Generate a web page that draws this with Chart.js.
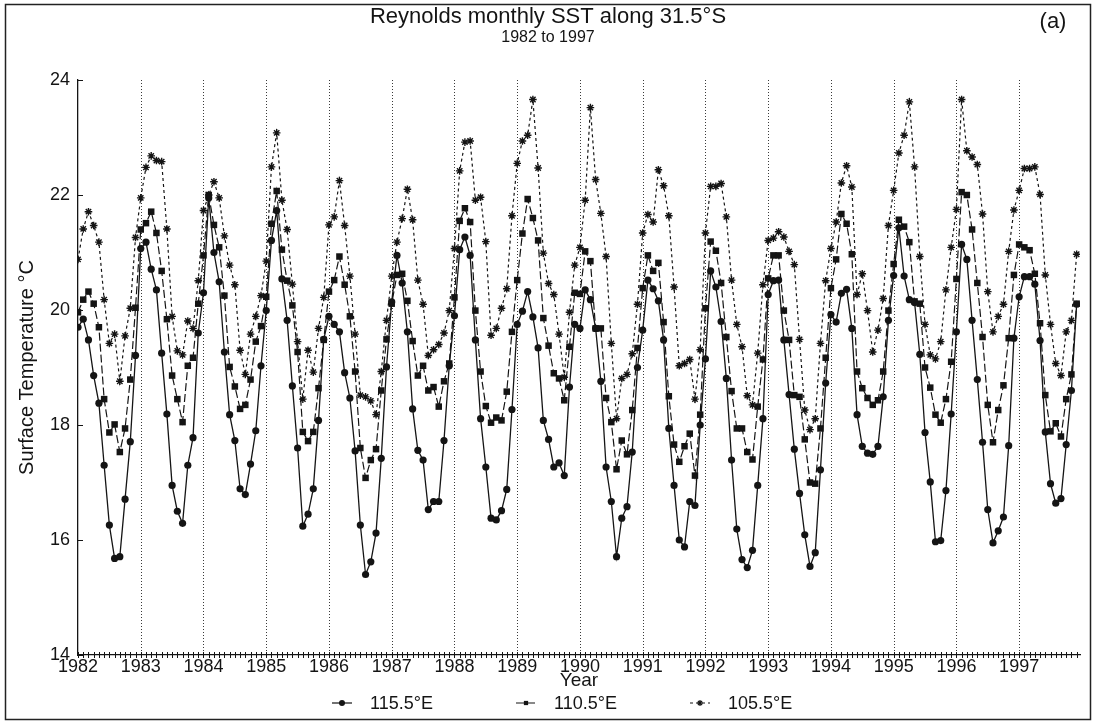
<!DOCTYPE html>
<html>
<head>
<meta charset="utf-8">
<script src="https://cdn.jsdelivr.net/npm/chart.js@4.4.1/dist/chart.umd.min.js"></script>
<style>
html, body { margin: 0; padding: 0; background: #fff; }
#wrap { width: 1095px; height: 724px; }
</style>
</head>
<body>
<div id="wrap"><canvas id="myChart" width="1095" height="724"></canvas></div>
<script>
// monthly values, Jan..Dec for each year 1982-1997
const years = [1982, 1983, 1984, 1985, 1986, 1987, 1988, 1989, 1990, 1991, 1992, 1993, 1994, 1995, 1996, 1997];
const yTicks = [14, 16, 18, 20, 22, 24];
const seriesNames = ['115.5°E', '110.5°E', '105.5°E'];

const sst115 = [
  19.70, 19.84, 19.48, 18.86, 18.38, 17.30, 16.26, 15.68, 15.71, 16.71, 17.71, 19.21,
  21.07, 21.18, 20.71, 20.35, 19.25, 18.19, 16.95, 16.50, 16.29, 17.30, 17.78, 19.60,
  20.30, 21.95, 21.00, 20.49, 19.27, 18.18, 17.73, 16.89, 16.79, 17.32, 17.90, 19.03,
  19.99, 21.21, 21.73, 20.54, 19.82, 18.68, 17.60, 16.24, 16.45, 16.89, 18.08, 19.49,
  19.89, 19.75, 19.62, 18.91, 18.47, 17.55, 16.26, 15.40, 15.62, 16.12, 17.42, 19.01,
  20.14, 20.95, 20.47, 19.62, 18.28, 17.56, 17.39, 16.53, 16.67, 16.67, 17.73, 19.03,
  19.90, 21.05, 21.27, 20.95, 19.48, 18.11, 17.27, 16.38, 16.35, 16.51, 16.88, 18.27,
  19.75, 19.98, 20.32, 19.88, 19.34, 18.08, 17.75, 17.27, 17.34, 17.12, 18.66, 19.75,
  19.68, 20.35, 20.18, 19.68, 18.76, 17.27, 16.67, 15.71, 16.38, 16.58, 17.53, 19.00,
  19.65, 20.52, 20.37, 20.16, 19.48, 17.94, 16.95, 16.00, 15.88, 16.67, 16.60, 18.00,
  19.15, 20.68, 20.40, 19.80, 18.81, 17.39, 16.19, 15.66, 15.52, 15.82, 16.95, 18.11,
  20.27, 20.51, 20.52, 19.48, 18.53, 17.58, 16.81, 16.09, 15.54, 15.78, 17.22, 18.73,
  19.92, 19.79, 20.29, 20.36, 19.68, 18.18, 17.63, 17.51, 17.49, 17.63, 18.49, 19.82,
  20.60, 21.43, 20.59, 20.18, 20.13, 19.23, 17.87, 17.01, 15.97, 15.99, 16.86, 18.19,
  19.62, 21.14, 20.88, 19.82, 18.79, 17.70, 16.53, 15.95, 16.16, 16.40, 17.64, 19.51,
  20.23, 20.58, 20.58, 20.45, 19.47, 17.88, 16.98, 16.64, 16.72, 17.66, 18.60, 20.10
];

const sst110 = [
  19.96, 20.18, 20.32, 20.11, 19.70, 18.45, 17.87, 18.01, 17.53, 17.94, 18.79, 20.04,
  21.40, 21.51, 21.71, 21.34, 20.68, 19.84, 18.86, 18.45, 18.05, 19.03, 19.17, 20.11,
  20.95, 22.00, 21.48, 21.09, 20.25, 19.01, 18.67, 18.28, 18.35, 18.79, 19.45, 19.72,
  20.23, 21.50, 22.07, 21.05, 20.51, 20.08, 19.27, 17.88, 17.72, 17.88, 18.64, 19.48,
  20.32, 20.52, 20.93, 20.44, 19.89, 18.93, 17.60, 17.08, 17.39, 17.58, 18.60, 19.49,
  20.11, 20.61, 20.63, 20.16, 19.46, 18.86, 19.03, 18.60, 18.66, 18.32, 18.76, 19.07,
  20.22, 21.55, 21.77, 21.53, 19.99, 18.93, 18.33, 18.04, 18.13, 18.08, 18.58, 19.62,
  20.52, 21.33, 21.93, 21.60, 21.21, 19.86, 19.38, 18.90, 18.81, 18.43, 19.36, 20.30,
  20.28, 21.02, 20.85, 19.68, 19.68, 18.47, 18.05, 17.23, 17.73, 17.49, 18.26, 19.34,
  20.38, 20.95, 20.68, 20.82, 19.79, 18.50, 17.66, 17.36, 17.63, 17.85, 17.12, 18.18,
  20.03, 21.19, 21.03, 20.47, 19.53, 18.59, 17.94, 17.94, 17.53, 17.40, 18.32, 19.14,
  20.55, 20.95, 20.95, 19.99, 19.48, 18.52, 18.49, 17.75, 17.00, 16.98, 17.94, 19.17,
  20.38, 20.88, 21.67, 21.50, 20.97, 18.93, 18.64, 18.47, 18.35, 18.43, 18.93, 19.99,
  20.80, 21.57, 21.45, 21.18, 20.15, 20.11, 19.00, 18.65, 18.18, 18.04, 18.45, 19.10,
  20.54, 22.05, 22.00, 21.40, 20.47, 19.53, 18.35, 17.70, 18.26, 18.69, 19.51, 20.61,
  21.14, 21.09, 21.04, 20.63, 19.77, 18.52, 17.89, 18.03, 17.80, 18.45, 18.88, 20.11
];

const sst105 = [
  20.88, 21.41, 21.71, 21.47, 21.18, 20.18, 19.42, 19.58, 18.76, 19.55, 20.03, 21.26,
  21.95, 22.48, 22.68, 22.60, 22.58, 21.41, 19.89, 19.29, 19.22, 19.81, 19.68, 20.51,
  21.73, 22.00, 22.23, 21.95, 21.29, 20.78, 20.44, 19.30, 18.88, 19.58, 19.89, 20.25,
  20.85, 22.49, 23.08, 21.91, 21.40, 20.45, 19.45, 18.45, 19.30, 18.92, 19.68, 20.22,
  21.48, 21.62, 22.25, 21.47, 20.59, 19.58, 18.52, 18.49, 18.42, 18.18, 18.93, 19.82,
  20.59, 21.18, 21.59, 22.10, 21.57, 20.52, 20.10, 19.21, 19.31, 19.40, 19.60, 19.99,
  21.07, 22.42, 22.92, 22.94, 21.91, 21.96, 21.19, 19.56, 19.68, 20.03, 20.37, 21.64,
  22.55, 22.94, 23.04, 23.66, 22.47, 20.99, 20.46, 20.27, 19.58, 18.83, 19.96, 20.78,
  21.09, 21.91, 23.52, 22.27, 21.68, 20.93, 19.42, 18.11, 18.81, 18.88, 19.24, 20.10,
  21.34, 21.66, 21.53, 22.44, 22.16, 21.64, 20.40, 19.03, 19.07, 19.14, 18.45, 19.31,
  21.34, 22.15, 22.15, 22.20, 21.62, 20.52, 19.75, 19.36, 18.51, 18.35, 19.25, 20.44,
  21.21, 21.25, 21.36, 21.27, 21.02, 20.79, 19.49, 18.26, 17.92, 18.11, 19.42, 20.51,
  21.07, 21.53, 22.21, 22.51, 22.14, 20.27, 20.63, 19.99, 19.27, 19.65, 20.20, 21.47,
  22.08, 22.73, 23.04, 23.62, 22.49, 20.93, 19.75, 19.22, 19.15, 19.45, 20.35, 21.09,
  21.75, 23.66, 22.77, 22.66, 22.53, 21.67, 20.32, 19.62, 19.89, 20.10, 21.02, 21.74,
  22.08, 22.46, 22.46, 22.49, 22.01, 20.61, 19.75, 19.07, 18.86, 19.62, 19.82, 20.97
];

const ink = '#141414';
const fontFamily = '"Liberation Sans", Arial, Helvetica, sans-serif';

// month index -> decimal year on the x axis
function toPoints(vals) {
  return vals.map((v, i) => ({ x: years[0] + i / 12, y: v }));
}

function drawMarker(ctx, style, x, y, r) {
  ctx.beginPath();
  if (style === 'circle') {
    ctx.arc(x, y, r, 0, Math.PI * 2);
    ctx.fill();
  } else if (style === 'rect') {
    const s = r * Math.SQRT1_2;
    ctx.fillRect(x - s, y - s, 2 * s, 2 * s);
  } else {
    for (let k = 0; k < 4; k++) {
      const a = k * Math.PI / 4;
      ctx.moveTo(x - Math.cos(a) * r, y - Math.sin(a) * r);
      ctx.lineTo(x + Math.cos(a) * r, y + Math.sin(a) * r);
    }
    ctx.stroke();
  }
}

const decor = {
  id: 'decor',
  beforeDraw(chart) {
    const ctx = chart.ctx;
    ctx.save();
    ctx.fillStyle = '#fff';
    ctx.fillRect(0, 0, chart.width, chart.height);
    ctx.restore();
  },
  beforeDatasetsDraw(chart) {
    const { ctx, chartArea: a, scales: { x, y } } = chart;
    ctx.save();
    ctx.strokeStyle = '#3a3a3a';
    ctx.lineWidth = 1;
    ctx.setLineDash([1, 2]);
    years.slice(1).forEach(yr => {
      const px = Math.round(x.getPixelForValue(yr)) + 0.5;
      ctx.beginPath();
      ctx.moveTo(px, a.top);
      ctx.lineTo(px, a.bottom);
      ctx.stroke();
    });
    ctx.setLineDash([]);
    ctx.strokeStyle = ink;
    // monthly ticks across the x axis
    for (let i = 0; i < years.length * 12; i++) {
      const px = Math.round(x.getPixelForValue(years[0] + i / 12)) + 0.5;
      ctx.beginPath();
      ctx.moveTo(px, a.bottom - 3);
      ctx.lineTo(px, a.bottom + 3);
      ctx.stroke();
    }
    yTicks.forEach(v => {
      const py = Math.round(y.getPixelForValue(v)) + 0.5;
      ctx.beginPath();
      ctx.moveTo(a.left, py);
      ctx.lineTo(a.left + 5, py);
      ctx.stroke();
    });
    ctx.restore();
  },
  afterDraw(chart) {
    const { ctx, chartArea: a } = chart;
    ctx.save();
    ctx.fillStyle = ink;
    ctx.textAlign = 'center';
    ctx.textBaseline = 'middle';
    ctx.font = '22px ' + fontFamily;
    ctx.fillText('Reynolds monthly SST along 31.5°S', 548, 17);
    ctx.font = '16px ' + fontFamily;
    ctx.fillText('1982 to 1997', 548, 38);
    ctx.font = '22px ' + fontFamily;
    ctx.fillText('(a)', 1053, 22);
    ctx.font = '19px ' + fontFamily;
    ctx.fillText('Year', (a.left + a.right) / 2, 681);
    ctx.save();
    ctx.translate(27, (a.top + a.bottom) / 2);
    ctx.rotate(-Math.PI / 2);
    ctx.font = '20px ' + fontFamily;
    ctx.fillText('Surface Temperature °C', 0, 0);
    ctx.restore();

    // legend: short line with marker, then label
    const marks = [342, 526, 700];
    ctx.font = '18px ' + fontFamily;
    ctx.textAlign = 'left';
    chart.data.datasets.forEach((ds, i) => {
      const mx = marks[i], my = 703;
      ctx.strokeStyle = ink;
      ctx.fillStyle = ink;
      ctx.lineWidth = 1.2;
      ctx.setLineDash(ds.borderDash || []);
      ctx.beginPath();
      ctx.moveTo(mx - 10, my);
      ctx.lineTo(mx + 10, my);
      ctx.stroke();
      ctx.setLineDash([]);
      drawMarker(ctx, ds.pointStyle, mx, my, 3);
      ctx.fillText(ds.label, mx + 28, my + 1);
    });

    // frame around the figure
    ctx.strokeStyle = '#222';
    ctx.lineWidth = 1.5;
    ctx.strokeRect(5.5, 4.5, 1085, 715);
    ctx.restore();
  }
};

const myChart = document.getElementById('myChart').getContext('2d');

let sstChart = new Chart(myChart, {
  type: 'line',
  data: {
    datasets: [
      {
        label: seriesNames[0],
        data: toPoints(sst115),
        borderColor: ink, backgroundColor: ink,
        borderWidth: 1.3,
        pointStyle: 'circle', pointRadius: 3.6, pointBorderWidth: 0,
        pointBackgroundColor: ink
      },
      {
        label: seriesNames[1],
        data: toPoints(sst110),
        borderColor: ink, backgroundColor: ink,
        borderWidth: 1.2, borderDash: [8, 3],
        pointStyle: 'rect', pointRadius: 4.6, pointBorderWidth: 0,
        pointBackgroundColor: ink
      },
      {
        label: seriesNames[2],
        data: toPoints(sst105),
        borderColor: ink, backgroundColor: ink,
        borderWidth: 1.2, borderDash: [3, 3],
        pointStyle: 'star', pointRadius: 3.8, pointBorderWidth: 1.4,
        pointBorderColor: ink
      }
    ]
  },
  options: {
    responsive: false,
    animation: false,
    devicePixelRatio: 1,
    layout: { padding: { top: 80, right: 15, left: 0, bottom: 0 } },
    plugins: {
      legend: { display: false },
      tooltip: { enabled: false },
      title: { display: false }
    },
    elements: { line: { tension: 0 } },
    scales: {
      x: {
        type: 'linear',
        min: 1982,
        max: 1997.97,
        afterBuildTicks: s => { s.ticks = years.map(v => ({ value: v })); },
        afterFit: s => { s.height = 69; },
        ticks: {
          callback: v => String(v),
          autoSkip: false, maxRotation: 0,
          color: ink, padding: 1,
          font: { family: fontFamily, size: 18 }
        },
        grid: { display: false, drawTicks: false },
        border: { color: ink, width: 1.3 }
      },
      y: {
        min: 14,
        max: 24,
        afterBuildTicks: s => { s.ticks = yTicks.map(v => ({ value: v })); },
        afterFit: s => { s.width = 78; },
        ticks: {
          color: ink, padding: 8,
          font: { family: fontFamily, size: 18 }
        },
        grid: { display: false, drawTicks: false },
        border: { color: ink, width: 1.3 }
      }
    }
  },
  plugins: [decor]
});
</script>
</body>
</html>
